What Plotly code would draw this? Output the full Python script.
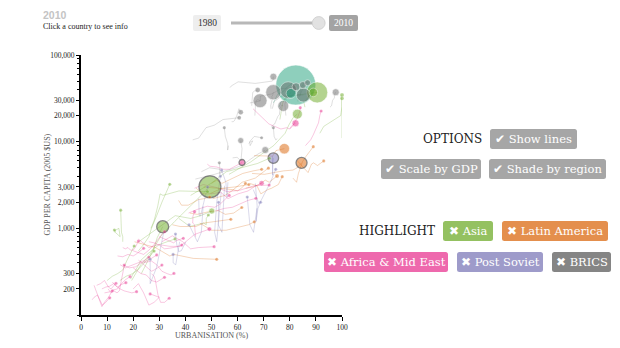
import plotly.graph_objects as go

# ---------------- data ----------------
years = [1980, 1985, 1990, 1995, 2000, 2005, 2010]

countries = [
    "United States", "Canada",
    "Germany", "United Kingdom", "France", "Italy", "Spain", "Switzerland", "Austria",
    "Belgium", "Netherlands", "Sweden", "Denmark", "Greece", "Portugal", "Czech Rep.",
    "Slovakia", "Hungary", "Poland", "Turkey", "Romania",
    "Japan", "Australia", "Korea", "Singapore", "Hong Kong", "Malaysia", "China", "India",
    "Indonesia", "Philippines", "Thailand", "Mongolia", "Vietnam", "Bangladesh",
    "Sri Lanka", "Papua New Guinea", "Cambodia",
    "Mexico", "Brazil", "Chile", "Argentina", "Colombia", "Peru", "Panama",
    "Dominican Rep.", "Paraguay", "Bolivia", "Honduras", "Haiti", "Ecuador",
    "Guatemala", "El Salvador",
    "Saudi Arabia", "Oman", "Bahrain", "South Africa", "Iran", "Algeria", "Egypt",
    "Morocco", "Nigeria", "Tunisia", "Sudan", "Kenya", "Zambia", "Ghana", "Senegal",
    "Tanzania", "Mali", "DR Congo", "Burundi", "Ethiopia", "Rwanda", "Uganda",
    "Malawi", "Niger", "Madagascar", "Benin", "Cote d'Ivoire", "Cameroon",
    "Burkina Faso", "Chad",
    "Russia", "Ukraine", "Kazakhstan", "Azerbaijan", "Belarus", "Uzbekistan",
    "Kyrgyzstan", "Tajikistan", "Armenia", "Georgia", "Moldova", "Turkmenistan",
]

regions = (
    ["na"] * 2 + ["ot"] * 19 + ["as"] * 17 + ["la"] * 15 + ["af"] * 30 + ["ps"] * 12
)

brics = ["China", "India", "Brazil", "Russia", "South Africa"]

# total GDP 2010, billions of 2005 US$
gdp_total = [
    13000, 800,
    1900, 2250, 1600, 1600, 980, 400, 200, 400, 520, 400, 290, 200, 130, 70,
    50, 60, 290, 400, 60,
    3600, 600, 800, 130, 120, 60, 3900, 1170, 290, 70, 60, 60, 60, 70, 30, 10, 20,
    900, 980, 60, 70, 130, 80, 30, 40, 15, 12, 10, 5, 40, 35, 20,
    400, 25, 25, 290, 200, 75, 100, 40, 150, 20, 20, 10, 10, 10, 8, 8, 8, 10, 3,
    10, 4, 8, 4, 4, 6, 5, 12, 15, 6, 6,
    900, 70, 50, 20, 40, 15, 5, 5, 10, 10, 5, 15,
]

N = None
urban = [
    [73.7, 74.5, 75.3, 77.3, 79.1, 80.7, 82.3],
    [75.7, 76.4, 76.6, 77.7, 79.5, 80.2, 80.5],
    [72.8, 72.7, 73.1, 73.3, 73.1, 73.4, 73.7],
    [78.5, 78.3, 78.1, 78.4, 78.7, 79.0, 79.4],
    [73.3, 73.7, 74.1, 75.0, 76.9, 81.6, 85.2],
    [66.6, 66.7, 66.7, 66.9, 67.2, 67.8, 68.6],
    [72.8, 74.2, 75.4, 76.0, 76.3, 76.8, 77.5],
    [57.1, 57.6, 60.2, 66.8, 73.3, 73.5, 73.7],
    [65.4, 65.5, 65.8, 65.8, 65.8, 66.5, 67.7],
    [95.4, 96.0, 96.4, 97.1, 97.1, 97.3, 97.6],
    [64.7, 68.7, 68.7, 73.0, 76.8, 80.2, 82.4],
    [83.1, 83.1, 83.1, 84.0, 84.0, 84.3, 85.0],
    [83.7, 84.3, 84.8, 85.1, 85.1, 85.9, 86.8],
    [57.7, 58.3, 58.8, 59.3, 59.7, 60.5, 61.2],
    [42.8, 45.1, 47.9, 51.1, 54.4, 57.6, 60.6],
    [N, N, 75.2, 74.6, 74.0, 73.6, 73.7],
    [N, N, 56.5, 56.2, 56.2, 55.3, 54.9],
    [64.2, 65.0, 65.8, 64.8, 64.6, 66.4, 69.2],
    [58.1, 59.8, 61.3, 61.5, 61.7, 61.5, 61.2],
    [43.8, 51.2, 59.2, 62.1, 64.7, 67.8, 70.6],
    [46.1, 49.2, 53.2, 53.8, 53.0, 53.2, 53.0],
    [76.2, 76.7, 77.3, 78.0, 78.6, 86.0, 90.5],
    [85.8, 85.5, 85.4, 86.1, 87.2, 88.2, 89.0],
    [56.7, 64.9, 73.8, 78.2, 79.6, 81.3, 82.9],
    [100, 100, 100, 100, 100, 100, 100],
    [91.5, 93.0, 99.5, 100, 100, 100, 100],
    [42.0, 45.9, 49.8, 55.7, 62.0, 67.6, 72.2],
    [19.4, 22.9, 26.4, 31.0, 35.9, 42.5, 49.4],
    [23.1, 24.3, 25.5, 26.6, 27.7, 29.2, 31.3],
    [22.1, 26.1, 30.6, 36.1, 42.0, 45.9, 50.1],
    [37.5, 41.7, 47.0, 48.0, 48.0, 48.0, 48.8],
    [26.8, 28.1, 29.4, 30.3, 31.4, 37.5, 48.5],
    [22, 24, 26, 27, 29, 31, 34],
    [19, 20, 21, 23, 26, 30, 36],
    [14.9, 17.3, 19.8, 21.7, 23.6, 25.7, 28.0],
    [16, 16, 15.5, 15.5, 15.5, 15.3, 15.2],
    [13.1, 13.9, 15.0, 14.5, 13.2, 13.0, 12.8],
    [10, 12, 14, 16, 17.5, 19, 20.4],
    [66.3, 69.0, 71.4, 73.4, 74.7, 76.3, 77.9],
    [65.5, 70.3, 73.9, 77.6, 81.2, 82.8, 84.5],
    [81.2, 82.6, 83.3, 84.9, 86.1, 87.7, 89.0],
    [82.9, 84.9, 87.0, 88.3, 89.1, 90.6, 93.0],
    [63.1, 65.9, 68.3, 70.6, 72.1, 73.6, 75.1],
    [64.6, 67.4, 68.9, 71.6, 73.0, 75.6, 77.1],
    [50, 52, 54, 58, 62, 66, 69.2],
    [50.5, 53.6, 55.2, 57.8, 61.7, 66.8, 71.8],
    [41.7, 44.5, 48.7, 52.6, 55.3, 58.5, 61.6],
    [45.5, 50.0, 55.6, 58.9, 61.8, 64.2, 66.4],
    [35, 38, 41, 44, 47, 52, 57.4],
    [20.5, 24.5, 28.5, 34.0, 35.6, 43.0, 52.0],
    [47, 51, 55, 58, 60, 62, 63],
    [37.4, 38.5, 41.1, 42.9, 45.1, 47.2, 49.3],
    [44.1, 47.0, 49.2, 54.0, 58.9, 62.0, 64.3],
    [65.9, 72.0, 76.6, 78.8, 79.8, 81.0, 82.2],
    [80, 81, 82, 83, 83.5, 84, 84],
    [86, 88, 89, 90, 91, 91.5, 92],
    [48.4, 49.4, 52.0, 54.5, 56.9, 59.3, 61.7],
    [49.7, 53.6, 56.3, 60.2, 64.0, 67.0, 69.2],
    [43.5, 46.8, 52.1, 56.0, 60.8, 66.3, 72.1],
    [43.9, 43.8, 43.5, 42.8, 42.8, 42.9, 43.5],
    [41.2, 44.5, 48.4, 51.2, 53.3, 55.1, 56.8],
    [22.0, 26.0, 29.7, 34.0, 38.0, 43.5, 49.2],
    [52, 55, 58, 60, 62, 64, 67],
    [20, 22, 24, 26, 28, 30, 32],
    [16, 17, 18, 19, 20, 21, 22],
    [14, 16, 18, 20, 21, 22.5, 24],
    [15, 17, 19, 21, 23, 24.5, 26],
    [22, 24, 26, 27, 28, 29.5, 31],
    [20, 23, 25, 27, 29, 30.5, 32],
    [24, 27, 29, 31, 33, 34.5, 35.6],
    [27, 28, 28.5, 29.5, 30.5, 32, 33.8],
    [4.3, 5.0, 6.3, 7.5, 8.2, 9.5, 11],
    [10.4, 11.5, 12.6, 13.8, 14.7, 15.7, 16.6],
    [6, 7.5, 9, 10.5, 11.5, 12.5, 13.4],
    [8, 9.5, 11, 12.5, 14, 15.5, 17.2],
    [9, 11, 12.5, 14, 15.5, 17, 18.8],
    [12, 13.5, 15, 16.5, 18, 19.5, 21.3],
    [16, 18.5, 21, 23, 25, 27, 29],
    [26, 28, 30, 32, 34, 36.5, 38.6],
    [30, 32, 34, 35.5, 36.5, 38, 39.2],
    [31, 35, 39, 42, 45, 48, 51],
    [5, 6, 7, 8, 9, 10.5, 12],
    [20, 22, 24, 26, 28, 30, 26.5],
    [N, N, 73.4, 73.4, 73.4, 73.5, 73.7],
    [N, N, 66.8, 67.5, 67.1, 67.8, 68.8],
    [N, N, 56.3, 55.9, 56.0, 55.5, 53.9],
    [N, N, 53.7, 52.0, 51.2, 52.0, 53.4],
    [N, N, 66.0, 68.3, 70.0, 72.6, 74.6],
    [N, N, 40.2, 38.4, 37.4, 36.7, 36.2],
    [N, N, 37.8, 36.3, 35.3, 35.2, 35.3],
    [N, N, 31.7, 28.9, 26.5, 26.5, 26.5],
    [N, N, 67.4, 66.1, 64.7, 64.1, 63.7],
    [N, N, 55.0, 54.0, 52.6, 52.6, 52.7],
    [N, N, 46.8, 46.1, 44.6, 42.8, 41.4],
    [N, N, 45.1, 45.3, 45.8, 47.2, 48.5],
]

gdp_pc = [
    [28000, 31000, 35000, 37500, 43000, 46500, 45000],
    [25000, 27000, 29000, 29500, 34000, 36500, 36100],
    [24000, 26000, 29500, 31000, 33500, 34000, 37200],
    [20000, 22500, 27000, 29000, 34000, 38500, 39400],
    [24000, 26000, 29500, 30500, 33500, 34500, 34500],
    [20000, 22500, 26000, 27500, 30000, 30500, 29700],
    [15000, 16000, 19500, 20500, 24000, 26500, 25800],
    [42000, 44000, 49000, 47000, 50000, 51500, 56200],
    [26000, 28000, 31500, 33500, 37000, 38500, 39400],
    [25000, 26000, 30000, 32000, 35000, 36500, 37200],
    [28000, 29500, 33500, 35500, 41000, 41500, 43000],
    [29000, 31500, 35000, 34500, 39500, 43000, 45000],
    [33000, 37000, 39000, 42000, 47000, 48500, 47900],
    [17000, 17000, 17500, 18500, 20000, 24000, 21800],
    [10500, 11000, 14500, 15500, 18000, 18500, 18900],
    [N, N, 10800, 10500, 11500, 13500, 14500],
    [N, N, 9000, 8000, 9500, 11500, 14500],
    [9500, 10000, 10200, 9000, 10000, 11500, 11100],
    [6500, 6600, 6000, 6800, 8300, 9000, 10300],
    [3700, 4200, 5000, 5400, 6200, 7200, 8000],
    [4500, 5000, 4800, 4400, 4200, 4900, 5700],
    [18000, 22000, 28000, 31000, 33000, 35500, 37000],
    [25000, 27000, 28500, 30000, 33500, 36000, 37000],
    [4200, 5800, 9000, 12500, 15500, 19000, 20800],
    [11000, 13500, 17000, 24000, 28500, 32000, 34500],
    [12500, 15000, 20000, 24000, 25500, 29000, 31600],
    [2400, 2800, 3300, 4500, 5000, 5600, 6430],
    [250, 380, 500, 850, 1200, 1900, 3020],
    [300, 350, 420, 480, 560, 780, 1045],
    [700, 850, 1050, 1400, 1300, 1400, 1585],
    [1300, 1050, 1150, 1100, 1150, 1300, 1425],
    [1000, 1250, 1800, 2500, 2400, 2700, 2650],
    [550, 650, 800, 1000, 1400, 2000, 3220],
    [260, 300, 330, 430, 520, 650, 754],
    [250, 280, 300, 330, 380, 450, 547],
    [700, 800, 900, 1000, 1150, 1350, 1620],
    [900, 850, 800, 1000, 950, 900, 957],
    [250, 280, 300, 330, 420, 520, 625],
    [6900, 6900, 6900, 6800, 7900, 8100, 8300],
    [4300, 4200, 4400, 4600, 4700, 5000, 5700],
    [3800, 3400, 4300, 5900, 6700, 7800, 8750],
    [6000, 5200, 4400, 5500, 5700, 5300, 6000],
    [2900, 3000, 3200, 3600, 3400, 3700, 4020],
    [3300, 3100, 2500, 2800, 2900, 3200, 3950],
    [3300, 3600, 3300, 3800, 4300, 4600, 4800],
    [2200, 2300, 2400, 2700, 3400, 3800, 4950],
    [1500, 1450, 1550, 1600, 1450, 1500, 1740],
    [1150, 950, 950, 1000, 1050, 1100, 1190],
    [1100, 1050, 1050, 1050, 1150, 1200, 1270],
    [700, 650, 600, 480, 500, 450, 439],
    [3000, 2900, 2850, 2800, 2700, 3000, 3300],
    [2100, 1850, 1850, 2000, 2150, 2200, 2300],
    [2900, 2500, 2500, 2900, 3000, 3100, 3200],
    [24000, 16000, 14000, 14500, 14000, 15500, 16300],
    [14000, 15000, 17000, 19000, 21000, 23000, 24700],
    [9000, 10500, 12000, 14000, 16500, 20000, 22600],
    [5500, 5200, 5100, 4800, 4800, 5300, 5750],
    [2500, 2600, 2200, 2500, 2700, 3100, 3310],
    [2900, 3200, 2950, 2650, 2750, 3100, 3160],
    [800, 1000, 1100, 1150, 1300, 1380, 1555],
    [1500, 1650, 1800, 1750, 1900, 2150, 2400],
    [750, 600, 650, 620, 620, 850, 980],
    [1600, 1700, 1750, 1850, 1950, 2100, 2220],
    [550, 520, 500, 560, 650, 780, 915],
    [600, 580, 600, 560, 560, 620, 713],
    [480, 470, 500, 480, 500, 540, 588],
    [380, 350, 370, 390, 410, 430, 464],
    [430, 380, 340, 320, 330, 350, 377],
    [350, 300, 290, 250, 240, 255, 272],
    [400, 420, 380, 320, 300, 290, 302],
    [300, 280, 250, 170, 140, 140, 156],
    [150, 160, 170, 140, 130, 140, 158],
    [200, 180, 190, 180, 190, 260, 377],
    [220, 230, 250, 210, 200, 215, 232],
    [200, 210, 215, 230, 210, 225, 236],
    [180, 185, 195, 200, 230, 255, 277],
    [240, 215, 200, 190, 185, 180, 186],
    [380, 350, 360, 400, 420, 450, 493],
    [700, 680, 640, 580, 590, 610, 641],
    [800, 750, 700, 680, 720, 740, 767],
    [700, 820, 700, 580, 600, 610, 614],
    [220, 180, 150, 125, 140, 160, 190],
    [200, 230, 180, 130, 140, 160, 175],
    [N, N, 6800, 4400, 4100, 5600, 6470],
    [N, N, 3300, 1800, 1200, 1700, 2000],
    [N, N, 3400, 2300, 2300, 3400, 4700],
    [N, N, 2600, 700, 900, 2000, 4000],
    [N, N, 2800, 1900, 2400, 3400, 4800],
    [N, N, 700, 550, 540, 650, 860],
    [N, N, 700, 380, 400, 450, 500],
    [N, N, 900, 350, 230, 330, 440],
    [N, N, 1700, 900, 1100, 1800, 2300],
    [N, N, 3100, 900, 1100, 1500, 2000],
    [N, N, 1800, 900, 700, 900, 1100],
    [N, N, 2200, 1400, 1400, 2000, 3000],
]

y_tick_vals = [200, 300, 1000, 2000, 3000, 10000, 20000, 30000, 100000]
y_tick_text = ["200", "300", "1,000", "2,000", "3,000", "10,000", "20,000", "30,000", "100,000"]
y_minor_vals = [100, 400, 500, 600, 700, 800, 900, 4000, 5000, 6000, 7000, 8000, 9000,
                40000, 50000, 60000, 70000, 80000, 90000]
x_tick_vals = [0, 10, 20, 30, 40, 50, 60, 70, 80, 90, 100]

option_labels = ["Show lines", "Scale by GDP", "Shade by region"]
highlight_labels = ["Asia", "Latin America", "Africa & Mid East", "Post Soviet", "BRICS"]
year_start, year_now = 1980, 2010

# ---------------- styling ----------------
region_color = {
    "as": (102, 166, 30),
    "la": (217, 95, 2),
    "af": (231, 41, 138),
    "ps": (117, 112, 179),
    "na": (27, 158, 119),
    "ot": (102, 102, 102),
}


def rgba(c, a):
    return "rgba(%d,%d,%d,%.2f)" % (c[0], c[1], c[2], a)


W, H = 620, 348
ML, MR, MT, MB = 81, 278, 55, 33
PW, PH = W - ML - MR, H - MT - MB


def fx(px):
    return (px - ML) / PW


def fy(py):
    return (H - MB - py) / PH


fig = go.Figure()

# trails
for name, reg, us, gs in zip(countries, regions, urban, gdp_pc):
    alpha = 0.2 if reg == "ot" else 0.26
    fig.add_trace(go.Scatter(
        x=us, y=gs, mode="lines",
        line=dict(color=rgba(region_color[reg], alpha), width=1),
        hoverinfo="skip", showlegend=False,
    ))

# bubbles, largest first
order = sorted(range(len(countries)), key=lambda i: -gdp_total[i])
bx, by, bs, bc, blc, blw, btxt = [], [], [], [], [], [], []
for i in order:
    bx.append(urban[i][-1])
    by.append(gdp_pc[i][-1])
    d = max(40 * (gdp_total[i] / 13000) ** 0.5, 3.2)
    bs.append(d)
    bc.append(rgba(region_color[regions[i]], 0.7))
    if countries[i] in brics:
        blc.append("rgba(70,70,70,0.9)")
        blw.append(1.3)
    else:
        blc.append("rgba(255,255,255,0.6)")
        blw.append(1 if d > 5 else 0.4)
    btxt.append(countries[i])

fig.add_trace(go.Scatter(
    x=bx, y=by, mode="markers", text=btxt, hoverinfo="text",
    marker=dict(size=bs, sizemode="diameter", color=bc,
                line=dict(color=blc, width=blw)),
    cliponaxis=False, showlegend=False,
))

serif = "Liberation Serif"
btn_font = "DejaVu Serif"

annotations = []
shapes = []


def add_text(txt, px, py, size, color, family, xanchor="left", angle=0, weight="normal"):
    annotations.append(dict(
        text=txt, x=fx(px), y=fy(py), xref="paper", yref="paper",
        xanchor=xanchor, yanchor="middle", showarrow=False, textangle=angle,
        font=dict(size=size, color=color, family=family, weight=weight),
    ))


def rrect(x0, y0, x1, y1, fill, r=2.5):
    a, b = fx(x0), fx(x1)
    top, bot = fy(y0), fy(y1)
    rx, ry = r / PW, r / PH
    path = (f"M {a+rx},{top} L {b-rx},{top} Q {b},{top} {b},{top-ry} "
            f"L {b},{bot+ry} Q {b},{bot} {b-rx},{bot} L {a+rx},{bot} "
            f"Q {a},{bot} {a},{bot+ry} L {a},{top-ry} Q {a},{top} {a+rx},{top} Z")
    shapes.append(dict(type="path", path=path, xref="paper", yref="paper",
                       fillcolor=fill, line=dict(width=0), layer="above"))


# header
add_text(str(year_now), 41, 15, 10.5, "#c4c4c4", "Liberation Sans", weight="bold")
add_text("Click a country to see info", 41, 27, 8, "#222222", serif)

# slider
rrect(193, 15, 221, 31, "#eeeeee", r=2)
add_text(str(year_start), 207, 23, 9.5, "#333333", serif, xanchor="center")
shapes.append(dict(type="line", xref="paper", yref="paper",
                   x0=fx(231), x1=fx(318), y0=fy(23), y1=fy(23),
                   line=dict(color="#b8b8b8", width=3), layer="above"))
shapes.append(dict(type="circle", xref="paper", yref="paper",
                   x0=fx(312.3), x1=fx(325.1), y0=fy(29.4), y1=fy(16.6),
                   fillcolor="#e2e2e2", line=dict(color="#d2d2d2", width=1), layer="above"))
rrect(329, 15, 358, 31, "#a3a3a3", r=2)
add_text(str(year_now), 343.5, 23, 9.5, "#ffffff", serif, xanchor="center")

# options
add_text("OPTIONS", 484, 139, 12, "#222222", btn_font, xanchor="right")
opt_boxes = [(490, 129, 577, 149), (381, 159, 481, 179), (489, 159, 606, 179)]
for lab, (x0, y0, x1, y1) in zip(option_labels, opt_boxes):
    rrect(x0, y0, x1, y1, "#a6a6a6")
    add_text("\u2714 " + lab, (x0 + x1) / 2, (y0 + y1) / 2, 11.5, "#ffffff", btn_font, xanchor="center")

# highlight
add_text("HIGHLIGHT", 437, 231, 12, "#222222", btn_font, xanchor="right")
hl_boxes = [(443, 221, 493, 241), (502, 221, 608, 241), (324, 252, 448, 272),
            (457, 252, 543, 272), (552, 252, 611, 272)]
hl_colors = [rgba(region_color["as"], 0.7), rgba(region_color["la"], 0.7),
             rgba(region_color["af"], 0.7), rgba(region_color["ps"], 0.7), "#858585"]
for lab, (x0, y0, x1, y1), col in zip(highlight_labels, hl_boxes, hl_colors):
    rrect(x0, y0, x1, y1, col)
    add_text("\u2716 " + lab, (x0 + x1) / 2, (y0 + y1) / 2, 11.5, "#ffffff", btn_font, xanchor="center")

# axis titles
add_text("URBANISATION (%)", 211.5, 335.5, 8, "#555555", serif, xanchor="center")
add_text("GDP PER CAPITA (2005 $US)", 46.5, 185, 8, "#555555", serif, xanchor="center", angle=-90)

fig.update_layout(
    width=W, height=H,
    margin=dict(l=ML, r=MR, t=MT, b=MB, pad=0),
    paper_bgcolor="white", plot_bgcolor="white",
    showlegend=False,
    annotations=annotations, shapes=shapes,
    xaxis=dict(range=[0, 100], tickvals=x_tick_vals, showgrid=False, zeroline=False,
               showline=True, linecolor="#000000", linewidth=1.5,
               ticks="outside", ticklen=4, tickcolor="#000000", tickwidth=1,
               tickfont=dict(family=serif, size=7.5, color="#222222")),
    yaxis=dict(type="log", range=[2, 5], tickvals=y_tick_vals, ticktext=y_tick_text,
               showgrid=False, zeroline=False,
               showline=True, linecolor="#000000", linewidth=2,
               ticks="outside", ticklen=3, tickcolor="#000000", tickwidth=1,
               tickfont=dict(family=serif, size=7.5, color="#222222"),
               minor=dict(tickmode="array", tickvals=y_minor_vals, ticks="outside",
                          ticklen=2, tickcolor="#000000", tickwidth=1, showgrid=False)),
)

fig.write_html("out.html")
